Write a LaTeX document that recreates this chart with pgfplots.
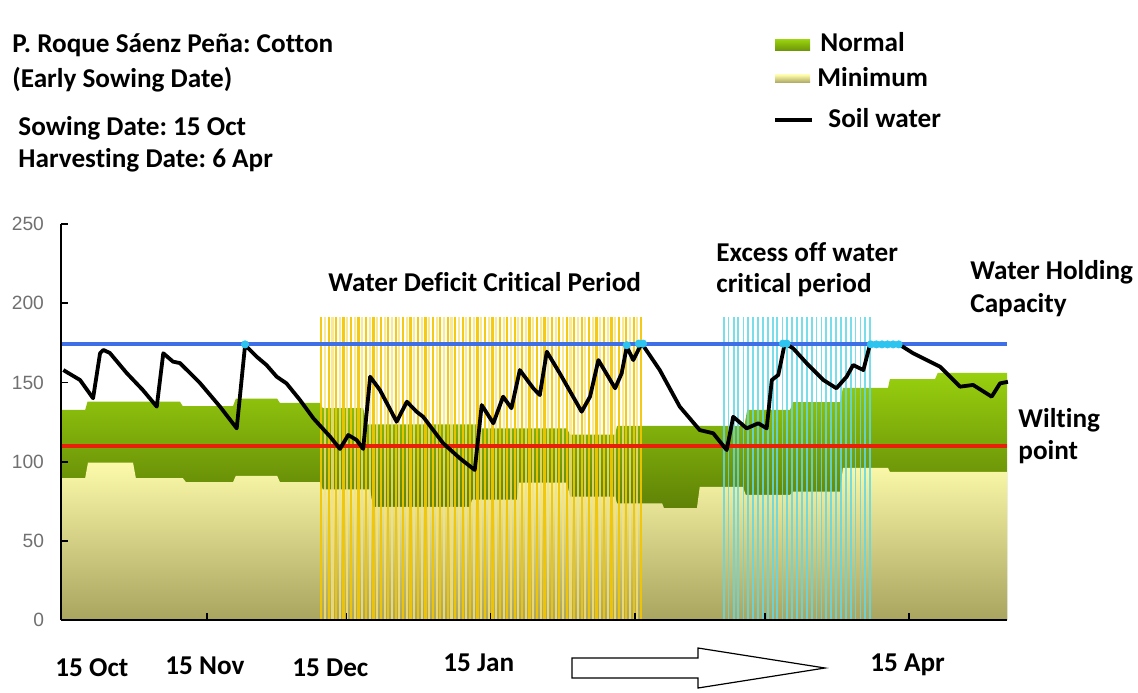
\documentclass[border=0pt]{standalone}
\usepackage{fontspec}
\setmainfont{Carlito}[Ligatures=NoCommon]
\newfontfamily\arialfont{Liberation Sans}
\usepackage{pgfplots}
\pgfplotsset{compat=1.18}
\definecolor{whc}{HTML}{3F6FE6}
\definecolor{wp}{HTML}{E8200A}
\definecolor{greenT}{HTML}{98D00E}
\definecolor{greenB}{HTML}{304100}
\definecolor{minT}{HTML}{FCFAAA}
\definecolor{minB}{HTML}{A9A45F}
\definecolor{goldL}{HTML}{F3C500}
\definecolor{paleL}{HTML}{F7E27A}
\definecolor{cyanL}{HTML}{62D8E6}
\definecolor{dotC}{HTML}{2EC4F0}
\definecolor{tickG}{HTML}{707070}
\newcommand\lbl{\fontsize{13.6}{16}\selectfont\bfseries}
\frenchspacing

% x: days after 15 Oct, y: soil water (mm)
\pgfplotstableread{
x y
55.6 191
57.2 191
58.8 191
60.4 191
62.0 191
63.6 191
65.2 191
66.8 191
68.4 191
70.0 191
71.6 191
73.2 191
74.8 191
76.4 191
78.0 191
79.6 191
81.2 191
82.8 191
84.4 191
86.0 191
87.6 191
89.2 191
90.8 191
92.4 191
94.0 191
95.6 191
97.2 191
98.8 191
100.4 191
102.0 191
103.6 191
105.2 191
106.8 191
108.4 191
110.0 191
111.6 191
113.2 191
114.8 191
116.4 191
118.0 191
119.6 191
121.2 191
122.8 191
124.4 191
}\goldlines
\pgfplotstableread{
x y
56.4 191
58.0 191
59.6 191
61.2 191
62.8 191
64.4 191
66.0 191
67.6 191
69.2 191
70.8 191
72.4 191
74.0 191
75.6 191
77.2 191
78.8 191
80.4 191
82.0 191
83.6 191
85.2 191
86.8 191
88.4 191
90.0 191
91.6 191
93.2 191
94.8 191
96.4 191
98.0 191
99.6 191
101.2 191
102.8 191
104.4 191
106.0 191
107.6 191
109.2 191
110.8 191
112.4 191
114.0 191
115.6 191
117.2 191
118.8 191
120.4 191
122.0 191
123.6 191
}\palelines
\pgfplotstableread{
x y
142.2 191
143.2 191
144.3 191
145.3 191
146.4 191
147.4 191
148.5 191
149.5 191
150.6 191
151.6 191
152.7 191
153.7 191
154.8 191
155.8 191
156.9 191
157.9 191
159.0 191
160.0 191
161.1 191
162.1 191
163.2 191
164.2 191
165.3 191
166.3 191
167.4 191
168.4 191
169.5 191
170.5 191
171.6 191
172.6 191
173.6 191
}\cyanlines

\begin{document}
\begin{tikzpicture}
\begin{axis}[
  at={(30.5pt,36pt)}, anchor=south west,
  scale only axis, width=473pt, height=198pt,
  xmin=-0.4, xmax=203.1, ymin=0, ymax=250,
  axis x line=bottom, axis y line=left,
  axis line style={-, line width=1pt, black},
  xtick={31,61,92,123,151,182}, xticklabels={},
  ytick={0,50,100,150,200,250},
  tick align=inside, major tick length=3.5pt,
  tick style={black, line width=0.9pt},
  yticklabel style={font=\arialfont\fontsize{9.6}{11}\selectfont, text=tickG, xshift=-5pt},
  /pgf/number format/assume math mode=true,
  axis on top, clip=false,
]
% Normal
\addplot[draw=none, top color=greenT, bottom color=greenB] coordinates {
(-0.4,132.6) (4.8,132.6) (5.3,137.8) (25.2,137.8) (25.8,135) (36.6,135)
(37.2,139.7) (46.1,139.7) (46.7,137) (55.3,137) (55.9,133.8) (64.6,133.8)
(65.4,123.5) (89.7,123.5) (90.0,121) (108.4,121) (109.1,117) (118.8,117)
(119.2,122.5) (146.6,122.5) (147.2,132.6) (156.4,132.6) (157.1,137.6) (167.2,137.6)
(167.8,146.5) (177.5,146.5) (177.9,152) (187.6,152) (188.2,156) (203.1,156)
} \closedcycle;
% Minimum
\addplot[draw=none, top color=minT, bottom color=minB] coordinates {
(-0.4,89.6) (4.8,89.6) (5.4,99.3) (15.1,99.3) (15.7,89.6) (25.8,89.6)
(26.5,87) (36.6,87) (37.2,91) (46.1,91) (46.7,87) (55.3,87)
(55.9,82.5) (66.1,82.5) (66.7,71.5) (87.6,71.5) (88.0,76) (97.7,76)
(98.1,86.7) (108.4,86.7) (109.1,77.9) (118.8,77.9) (119.2,73.7) (128.9,73.7)
(129.3,70.7) (136.4,70.7) (137.0,84) (146.3,84) (146.9,79) (156.4,79)
(157.1,81) (167.2,81) (167.8,96) (177.5,96) (177.9,93.5) (203.1,93.5)
} \closedcycle;
% critical periods
\addplot[ycomb, paleL, line width=1.05pt, opacity=0.8, no markers] table {\palelines};
\addplot[ycomb, goldL, line width=1.15pt, opacity=0.92, no markers] table {\goldlines};
\addplot[ycomb, cyanL, line width=0.9pt, opacity=0.85, no markers] table {\cyanlines};
% water holding capacity and wilting point
\addplot[whc, line width=2pt, no markers] coordinates {(-0.4,174) (203.1,174)};
\addplot[wp, line width=2pt, no markers] coordinates {(-0.4,110) (203.1,110)};
% soil water
\addplot[black, line width=1.9pt, line join=round, no markers] coordinates {
(0.1,157.8) (3.7,151.5) (6.5,140.0) (8.0,168.4) (8.7,170.5) (10.1,168.6)
(13.7,156.0) (17.2,145.2) (20.2,134.7) (21.6,168.4) (23.7,163.1) (25.2,162.2)
(29.5,149.6) (33.8,134.7) (37.4,121.0) (39.2,173.6) (41.7,166.2) (43.8,161.0)
(46.0,153.6) (48.1,149.4) (51.0,138.9) (53.9,127.3) (57.5,115.7) (59.6,108.0)
(61.4,116.8) (63.2,113.6) (64.6,108.0) (66.1,153.6) (68.2,145.2) (71.8,125.2)
(74.0,137.8) (76.1,131.5) (77.5,128.3) (81.8,111.6) (85.4,102.1) (88.6,94.7)
(90.1,135.7) (92.6,124.2) (94.7,141.0) (96.5,133.7) (98.3,157.8) (101.2,146.3)
(102.6,142.0) (104.1,169.4) (106.9,155.7) (111.6,131.5) (113.4,141.0) (115.2,164.1)
(118.8,146.3) (120.2,155.7) (121.3,172.5) (122.7,164.1) (124.5,174.7) (128.4,157.8)
(132.7,134.7) (137.0,119.9) (139.9,117.9) (142.8,107.3) (144.2,128.3) (147.1,121.0)
(149.6,124.2) (151.4,121.0) (152.5,151.5) (153.9,154.7) (155.3,174.7) (157.1,171.5)
(160.0,162.1) (163.6,151.5) (166.4,146.3) (168.6,153.6) (170.0,161.0) (172.2,157.8)
(173.6,173.6) (180.1,173.6) (182.9,168.4) (188.7,159.9) (193.0,147.3) (195.8,148.4)
(199.8,141.0) (201.6,149.4) (203.3,150.4)
};
\addplot[only marks, mark=*, mark size=1.8pt, dotC] coordinates {
(39.2,174) (121.3,173.5) (123.9,174.5) (124.8,174.5) (154.9,174.5) (155.7,174.5)
(173.8,174) (175.0,174) (176.2,174) (177.4,174) (178.6,174) (179.8,174)
};
\end{axis}
\begin{scope}[x=0.5pt, y=0.5pt]
\path (0,0) rectangle (1138,692);
\node[anchor=west, inner sep=0] at (12,647) {\lbl P. Roque Sáenz Peña: Cotton};
\node[anchor=west, inner sep=0] at (12,612) {\lbl (Early Sowing Date)};
\node[anchor=west, inner sep=0] at (18,564) {\lbl Sowing Date: 15 Oct};
\node[anchor=west, inner sep=0] at (18,532) {\lbl Harvesting Date: 6 Apr};
% legend
\shade[top color=greenT, bottom color=greenT!70!black] (775,641) rectangle (810,652);
\node[anchor=west, inner sep=0] at (820,650) {\lbl Normal};
\shade[top color=minT, bottom color=minB] (775,609) rectangle (810,617);
\node[anchor=west, inner sep=0] at (817,615) {\lbl Minimum};
\draw[black, line width=1.6pt] (775,572) -- (812,572);
\node[anchor=west, inner sep=0] at (828,574) {\lbl Soil water};
% annotations
\node[anchor=west, inner sep=0] at (328,410) {\lbl Water Deficit Critical Period};
\node[anchor=west, inner sep=0] at (716,440) {\lbl Excess off water};
\node[anchor=west, inner sep=0] at (716,407) {\lbl critical period};
\node[anchor=west, inner sep=0] at (970,420) {\lbl Water Holding};
\node[anchor=west, inner sep=0] at (970,387) {\lbl Capacity};
\node[anchor=west, inner sep=0] at (1018,272) {\lbl Wilting};
\node[anchor=west, inner sep=0] at (1018,240) {\lbl point};
% dates
\node[anchor=west, inner sep=0] at (55,24) {\lbl 15 Oct};
\node[anchor=west, inner sep=0] at (165,26) {\lbl 15 Nov};
\node[anchor=west, inner sep=0] at (292,24) {\lbl 15 Dec};
\node[anchor=west, inner sep=0] at (443,29) {\lbl 15 Jan};
\node[anchor=west, inner sep=0] at (870,27) {\lbl 15 Apr};
\draw[line width=0.6pt, fill=white] (572,34) -- (698,34) -- (698,44) -- (825,24)
  -- (698,4) -- (698,14) -- (572,14) -- cycle;
\end{scope}
\end{tikzpicture}
\end{document}
